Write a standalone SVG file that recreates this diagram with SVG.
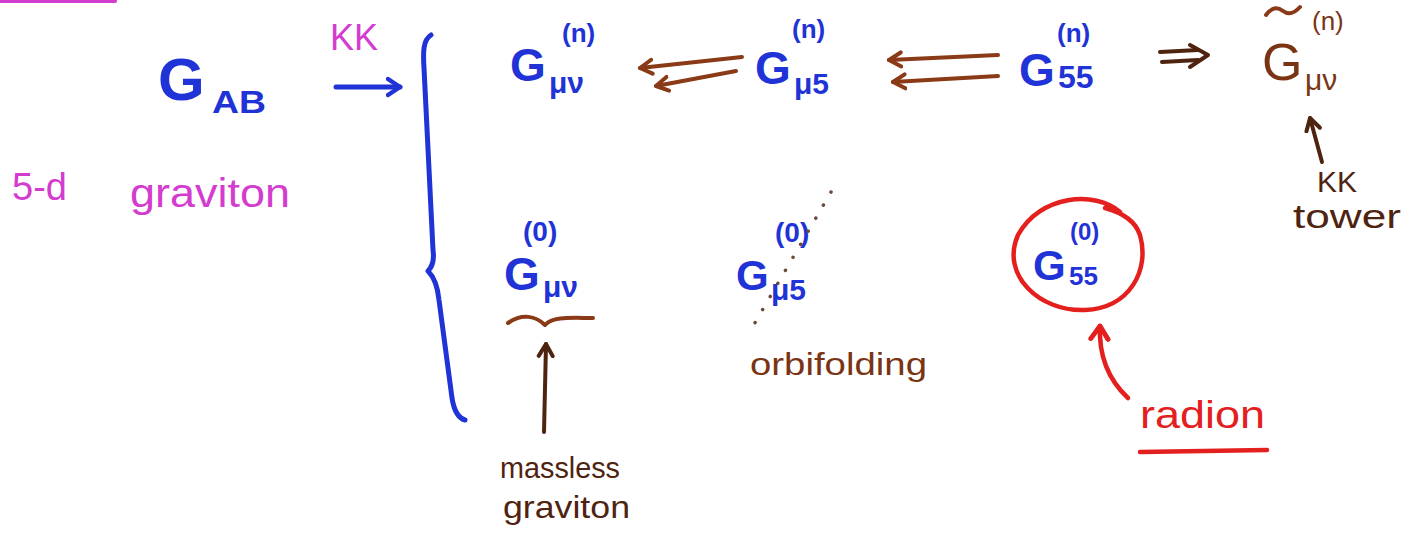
<svg xmlns="http://www.w3.org/2000/svg" width="1420" height="542" viewBox="0 0 1420 542">
<defs>
<style>
text{font-family:"Liberation Sans",Arial,sans-serif}
.blue{fill:#1f33d6;font-weight:bold}
.pink{fill:#d43cd0}
.brown{fill:#7a3414}
.dbrown{fill:#4e2410}
.red{fill:#e3201e}
.ln{fill:none;stroke-linecap:round;stroke-linejoin:round}
.sb{stroke:#1f33d6;stroke-width:5}
.sbr{stroke:#8a3a16;stroke-width:4}
.sdk{stroke:#4e2410;stroke-width:4}
.sr{stroke:#e3201e;stroke-width:4.5}
</style>
<marker id="hb" markerUnits="userSpaceOnUse" markerWidth="24" markerHeight="24" refX="14" refY="10" orient="auto" viewBox="0 0 24 20"><path d="M2,2 L14,10 L2,18" fill="none" stroke="#1f33d6" stroke-width="4.5" stroke-linecap="round" stroke-linejoin="round"/></marker>
<marker id="hbr" markerUnits="userSpaceOnUse" markerWidth="24" markerHeight="24" refX="14" refY="10" orient="auto" viewBox="0 0 24 20"><path d="M2,3 L14,10 L2,17" fill="none" stroke="#8a3a16" stroke-width="4" stroke-linecap="round" stroke-linejoin="round"/></marker>
<marker id="hdk" markerUnits="userSpaceOnUse" markerWidth="24" markerHeight="24" refX="14" refY="10" orient="auto" viewBox="0 0 24 20"><path d="M2,3 L14,10 L2,17" fill="none" stroke="#4e2410" stroke-width="4" stroke-linecap="round" stroke-linejoin="round"/></marker>
<marker id="hr" markerUnits="userSpaceOnUse" markerWidth="26" markerHeight="26" refX="14" refY="10" orient="auto" viewBox="0 0 24 20"><path d="M2,2 L14,10 L2,18" fill="none" stroke="#e3201e" stroke-width="4.5" stroke-linecap="round" stroke-linejoin="round"/></marker>
</defs>
<rect width="1420" height="542" fill="#ffffff"/>
<path class="ln" d="M0 1 L115 1" stroke="#d43cd0" stroke-width="4"/>

<g id="g-ab">
<text class="blue" x="158" y="100" font-size="60">G</text>
<text class="blue" x="212" y="113" font-size="32" textLength="54" lengthAdjust="spacingAndGlyphs">AB</text>
</g>
<g id="label-5d">
<text class="pink" x="12" y="200" font-size="38">5-d</text>
<text class="pink" x="130" y="207" font-size="40" textLength="160" lengthAdjust="spacingAndGlyphs">graviton</text>
</g>
<g id="kk-label">
<text class="pink" x="330" y="50" font-size="36">KK</text>
</g>
<g id="brace">
<path class="ln sb" d="M431 35 C423 40 423 52 424 68 L433 250 Q435 264 428 271 Q437 280 439 300 L452 398 Q455 417 465 420"/>
</g>

<g id="g-munu-n">
<text class="blue" x="510" y="81" font-size="46">G</text>
<text class="blue" x="562" y="42" font-size="26">(n)</text>
<text class="blue" x="549" y="93" font-size="30">μν</text>
</g>
<g id="g-mu5-n">
<text class="blue" x="755" y="84" font-size="46">G</text>
<text class="blue" x="792" y="38" font-size="26">(n)</text>
<text class="blue" x="794" y="94" font-size="30">μ5</text>
</g>
<g id="g-55-n">
<text class="blue" x="1019" y="86" font-size="46">G</text>
<text class="blue" x="1057" y="42" font-size="26">(n)</text>
<text class="blue" x="1058" y="88" font-size="32">55</text>
</g>
<g id="g-tilde-n">
<path class="ln sbr" d="M1266 15 Q1274 4 1283 11 Q1291 17 1300 7"/>
<text class="brown" x="1262" y="80" font-size="52">G</text>
<text class="brown" x="1312" y="30" font-size="26">(n)</text>
<text class="brown" x="1305" y="90" font-size="30">μν</text>
</g>
<g id="kk-tower">
<text class="dbrown" x="1317" y="192" font-size="30">KK</text>
<text class="dbrown" x="1293" y="228" font-size="34" textLength="108" lengthAdjust="spacingAndGlyphs">tower</text>
</g>

<g id="g-munu-0">
<text class="blue" x="523" y="241" font-size="28">(0)</text>
<text class="blue" x="504" y="290" font-size="46">G</text>
<text class="blue" x="543" y="297" font-size="30">μν</text>
</g>
<g id="massless">
<path class="ln sbr" d="M508 323 C522 313 536 316 545 325 C553 316 572 318 593 318"/>
<text class="dbrown" x="500" y="478" font-size="30" textLength="120" lengthAdjust="spacingAndGlyphs">massless</text>
<text class="dbrown" x="503" y="518" font-size="32" textLength="127" lengthAdjust="spacingAndGlyphs">graviton</text>
</g>
<g id="g-mu5-0">
<text class="blue" x="775" y="242" font-size="28">(0)</text>
<text class="blue" x="736" y="290" font-size="42">G</text>
<text class="blue" x="771" y="300" font-size="30">μ5</text>
<path class="ln" d="M831 192 L749 333" stroke="#6a4a3a" stroke-width="3.5" stroke-dasharray="0.1 15"/>
</g>
<g id="orbifolding">
<text class="brown" x="750" y="375" font-size="32" textLength="177" lengthAdjust="spacingAndGlyphs">orbifolding</text>
</g>
<g id="g-55-0">
<path class="ln sr" d="M1120 212 C1095 190 1040 195 1018 235 C1000 275 1040 312 1085 310 C1130 308 1150 270 1140 235 C1135 220 1120 212 1105 208"/>
<text class="blue" x="1070" y="240" font-size="24">(0)</text>
<text class="blue" x="1033" y="280" font-size="42">G</text>
<text class="blue" x="1069" y="285" font-size="26">55</text>
</g>
<g id="radion">
<text class="red" x="1140" y="428" font-size="38" textLength="125" lengthAdjust="spacingAndGlyphs">radion</text>
<path class="ln sr" d="M1140 452 L1267 450" stroke-width="5"/>
</g>

<g id="connectors">
<path class="ln sb" d="M336 87 L400 87" marker-end="url(#hb)"/>
<path class="ln sbr" d="M742 57 L640 68" marker-end="url(#hbr)"/>
<path class="ln sbr" d="M736 71 L656 86" marker-end="url(#hbr)"/>
<path class="ln sbr" d="M998 55 L889 60" marker-end="url(#hbr)"/>
<path class="ln sbr" d="M998 76 L893 82" marker-end="url(#hbr)"/>
<path class="ln sdk" d="M1160 52 L1198 50 M1162 62 L1198 60" stroke-width="3.5"/>
<path class="ln sdk" d="M1190 45 L1208 55 L1190 67" stroke-width="3.5"/>
<path class="ln sdk" d="M1322 162 L1310 118" marker-end="url(#hdk)"/>
<path class="ln sdk" d="M544 432 L546 344" marker-end="url(#hdk)"/>
<path class="ln sr" d="M1128 398 Q1098 370 1100 326" marker-end="url(#hr)"/>
</g>
</svg>
